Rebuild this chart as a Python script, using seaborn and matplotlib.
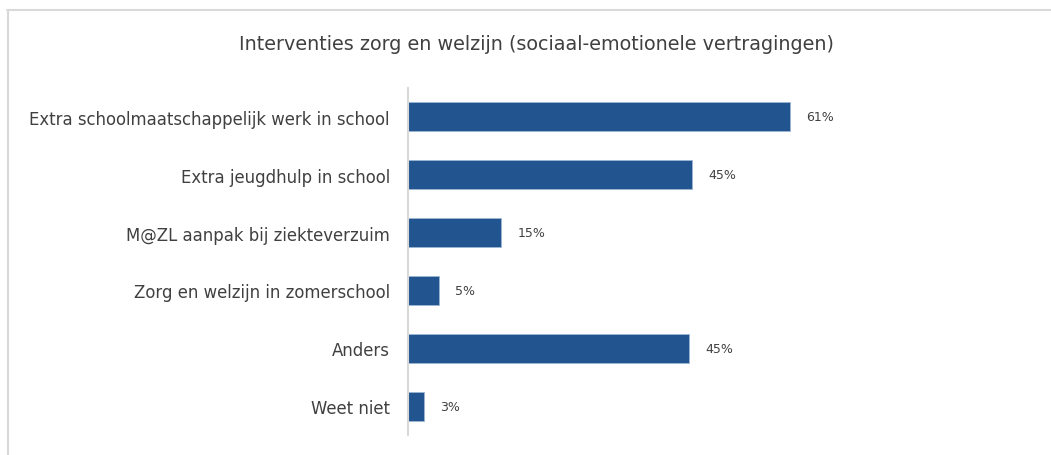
import matplotlib
matplotlib.use("Agg")
import matplotlib.pyplot as plt
from matplotlib.lines import Line2D
import seaborn as sns
import pandas as pd

categories = [
    "Extra schoolmaatschappelijk werk in school",
    "Extra jeugdhulp in school",
    "M@ZL aanpak bij ziekteverzuim",
    "Zorg en welzijn in zomerschool",
    "Anders",
    "Weet niet",
]
values = [61.0, 45.4, 14.9, 5.0, 44.9, 2.6]
title = "Interventies zorg en welzijn (sociaal-emotionele vertragingen)"

df = pd.DataFrame({"categorie": categories, "waarde": values})

sns.set_theme(style="white")
plt.rcParams["font.family"] = ["DejaVu Sans"]

W, H = 1051, 456
fig = plt.figure(figsize=(W / 100, H / 100), dpi=100)
ax = fig.add_axes([408 / W, (H - 436) / H, (1034 - 408) / W, (436 - 89) / H])

bar_color = "#22558F"
sns.barplot(data=df, x="waarde", y="categorie", orient="h", color=bar_color,
            width=0.5, saturation=1, ax=ax, edgecolor="#9DB5D3", linewidth=0.6)

ax.set_xlim(0, 100)
ax.set_ylim(5.5, -0.5)
ax.set_xlabel("")
ax.set_ylabel("")
ax.set_xticks([])
for s in ["top", "right", "bottom"]:
    ax.spines[s].set_visible(False)
ax.spines["left"].set_color("#D9D9D9")
ax.spines["left"].set_linewidth(1.5)
ax.tick_params(axis="y", length=0, pad=13, labelsize=11.9, labelcolor="#404040")

for cont in ax.containers:
    ax.bar_label(cont, labels=[f"{v:.0f}%" for v in values], padding=11.5,
                 fontsize=9, color="#404040")

fig.text((237 + 836) / 2 / W, 1 - 45 / H, title, ha="center", va="center",
         fontsize=13.8, color="#404040")

# outer frame (top and left edges)
fig.add_artist(Line2D([7 / W, 1], [1 - 11 / H, 1 - 11 / H], color="#D9D9D9",
                      linewidth=1.5, transform=fig.transFigure))
fig.add_artist(Line2D([8 / W, 8 / W], [0, 1 - 11 / H], color="#D9D9D9",
                      linewidth=1.5, transform=fig.transFigure))

fig.savefig("out.png", dpi=100, facecolor="white")
